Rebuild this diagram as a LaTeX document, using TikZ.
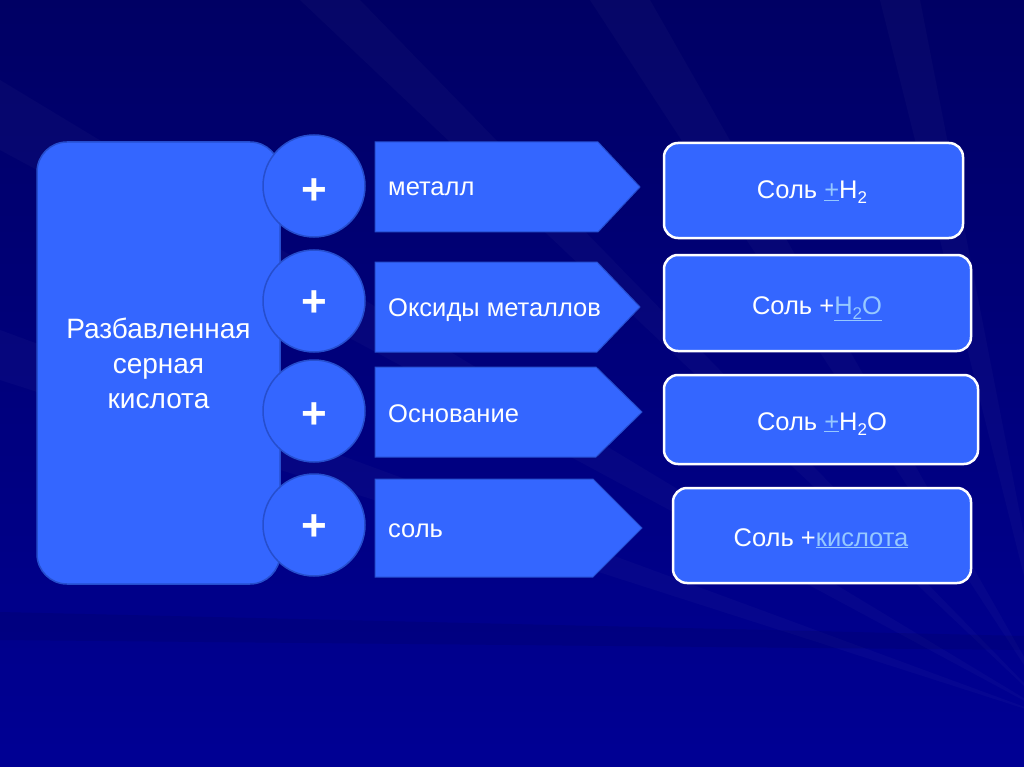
\documentclass[tikz,border=0pt]{standalone}
\usepackage{fontspec}
\setmainfont{Liberation Sans}
\definecolor{bgtop}{RGB}{0,0,100}
\definecolor{bgbot}{RGB}{0,0,148}
\definecolor{shapefill}{RGB}{52,102,255}
\definecolor{shapeedge}{RGB}{38,78,205}
\definecolor{linkblue}{RGB}{150,200,255}
\newcommand{\lnk}[1]{\textcolor{linkblue}{\underline{#1}}}
\newcommand{\subtwo}{\raisebox{-5pt}{\fontsize{17}{17}\selectfont 2}}
\begin{document}
\begin{tikzpicture}[x=1pt,y=-1pt,
  font=\fontsize{25.5}{35}\selectfont,
  every node/.style={text=white},
  bigbox/.style={draw=shapeedge, line width=1.5pt, fill=shapefill, rounded corners=30pt,
     minimum width=243pt, minimum height=442pt, align=center, inner sep=0pt,
     font=\fontsize{28}{35}\selectfont},
  pluscirc/.style={circle, draw=shapeedge, line width=1.5pt, fill=shapefill, minimum size=102pt, inner sep=0pt},
  plussign/.style={font=\fontsize{44}{44}\selectfont\bfseries, inner sep=0pt},
  arrowshape/.style={draw=shapeedge, line width=1pt, fill=shapefill},
  arrowtext/.style={anchor=west, inner sep=0pt},
  resbox/.style={draw=white, line width=2.5pt, fill=shapefill, rounded corners=14pt, inner sep=0pt},
  ray/.style={fill=white, opacity=0.025}
]
\useasboundingbox (0,0) rectangle (1024,767);
% background
\fill[top color=bgtop, bottom color=bgbot] (0,0) rectangle (1024,767);
\fill[ray] (1060,720) -- (590,0) -- (650,0) -- cycle;
\fill[ray] (1060,720) -- (880,0) -- (920,0) -- cycle;
\fill[ray] (1060,720) -- (300,0) -- (360,0) -- cycle;
\fill[ray] (1060,720) -- (0,80) -- (0,150) -- cycle;
\fill[ray] (1060,720) -- (0,330) -- (0,380) -- cycle;
\fill[ray] (1060,720) -- (1024,200) -- (1024,280) -- cycle;
\fill[black, opacity=0.08] (0,612) -- (1024,636) -- (1024,650) -- (0,640) -- cycle;

% left box
\node[bigbox] (acid) at (158.5,363) {Разбавленная\\серная\\кислота};

% arrows
\path[arrowshape] (375,142) -- (598,142) -- (640,187) -- (598,232) -- (375,232) -- cycle;
\path[arrowshape] (375,262) -- (597,262) -- (640,307) -- (597,352) -- (375,352) -- cycle;
\path[arrowshape] (375,367) -- (596,367) -- (642,412) -- (596,457) -- (375,457) -- cycle;
\path[arrowshape] (375,479) -- (593,479) -- (642,528) -- (593,577) -- (375,577) -- cycle;
\node[arrowtext] (t1) at (388,189) {металл};
\node[arrowtext] (t2) at (388,310) {Оксиды металлов};
\node[arrowtext] (t3) at (388,414) {Основание};
\node[arrowtext] (t4) at (388,531) {соль};

% circles
\node[pluscirc] (c1) at (314,186) {};
\node[pluscirc] (c2) at (314,301) {};
\node[pluscirc] (c3) at (314,411) {};
\node[pluscirc] (c4) at (314,525) {};
\node[plussign] (p1) at (314,192) {+};
\node[plussign] (p2) at (314,304) {+};
\node[plussign] (p3) at (314,416) {+};
\node[plussign] (p4) at (314,528) {+};

% result boxes
\node[resbox, minimum width=299pt, minimum height=95pt] (r1) at (813.5,190.5) {};
\node[resbox, minimum width=307pt, minimum height=96pt] (r2) at (817.5,303) {};
\node[resbox, minimum width=314pt, minimum height=89pt] (r3) at (821,419.5) {};
\node[resbox, minimum width=298pt, minimum height=95pt] (r4) at (822,535.5) {};
\node[anchor=base] (s1) at (812,199) {Соль \lnk{+}H\subtwo};
\node[anchor=base] (s2) at (817,314) {Соль +\lnk{H\subtwo O}};
\node[anchor=base] (s3) at (822,430) {Соль \lnk{+}H\subtwo O};
\node[anchor=base] (s4) at (821,546) {Соль +\lnk{кислота}};
\end{tikzpicture}
\end{document}
